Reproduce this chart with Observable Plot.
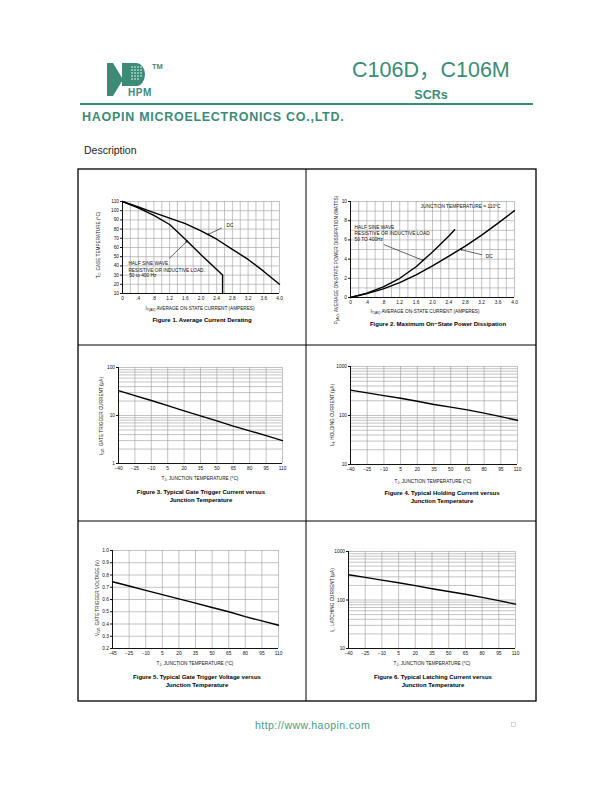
<!DOCTYPE html>
<html><head><meta charset="utf-8">
<script src="https://cdn.jsdelivr.net/npm/d3@7"></script>
<script src="https://cdn.jsdelivr.net/npm/@observablehq/plot@0.6"></script>
<style>
html,body{margin:0;padding:0;background:#fff}
#page{position:relative;width:612px;height:792px;overflow:hidden;font-family:"Liberation Sans",Arial,sans-serif;background:#fff}
#overlay{position:absolute;left:0;top:0;z-index:5;pointer-events:none}
</style></head><body><div id="page">
<svg id="overlay" width="612" height="792" xmlns="http://www.w3.org/2000/svg" font-family="Liberation Sans, Arial, sans-serif">
  <!-- header -->
  <g fill="#3b8b76">
    <rect x="107" y="63" width="6" height="33"/>
    <polygon points="113,63 123,79.5 113,96"/>
    <rect x="122" y="63" width="7" height="23"/>
    <path d="M129,63 H136 A9,11.5 0 0 1 136,86 H129 Z"/>
    <text x="128" y="96" font-weight="bold" font-size="10" letter-spacing="0.6">HPM</text>
    <text x="152" y="69" font-weight="bold" font-size="7.5" fill="#5d7f76">TM</text>
  </g>
  <g fill="#fff">
    <circle cx="132" cy="67" r="0.8"/><circle cx="135" cy="67" r="0.8"/><circle cx="138" cy="67" r="0.8"/><circle cx="141" cy="67" r="0.8"/>
    <circle cx="132" cy="70" r="0.8"/><circle cx="135" cy="70" r="0.8"/><circle cx="138" cy="70" r="0.8"/><circle cx="141" cy="70" r="0.8"/>
    <circle cx="132" cy="73" r="0.8"/><circle cx="135" cy="73" r="0.8"/><circle cx="138" cy="73" r="0.8"/><circle cx="141" cy="73" r="0.8"/>
    <circle cx="132" cy="76" r="0.8"/><circle cx="135" cy="76" r="0.8"/><circle cx="138" cy="76" r="0.8"/><circle cx="141" cy="76" r="0.8"/>
    <circle cx="132" cy="79" r="0.8"/><circle cx="135" cy="79" r="0.8"/><circle cx="138" cy="79" r="0.8"/>
  </g>
  <text x="352" y="77" font-size="21.5" fill="#3b8b76" font-family="Liberation Sans, 'Noto Sans CJK SC', sans-serif">C106D<tspan font-family="'Noto Sans CJK SC'">，</tspan>C106M</text>
  <text x="431" y="99" text-anchor="middle" font-weight="bold" font-size="12.5" fill="#3b8b76">SCRs</text>
  <line x1="80" x2="533" y1="104" y2="104" stroke="#3b8b76" stroke-width="2"/>
  <text x="82" y="121" font-weight="bold" font-size="12.5" fill="#3b8b76" letter-spacing="0.72">HAOPIN MICROELECTRONICS CO.,LTD.</text>
  <text x="84" y="154" font-size="10.5" fill="#222">Description</text>
  <!-- frame -->
  <rect x="78" y="169" width="458" height="532" fill="none" stroke="#000" stroke-width="1.3"/>
  <line x1="306" x2="306" y1="169" y2="701" stroke="#000" stroke-width="1"/>
  <line x1="78" x2="536" y1="345" y2="345" stroke="#000" stroke-width="1"/>
  <line x1="78" x2="536" y1="521" y2="521" stroke="#000" stroke-width="1"/>
  <!-- axis labels -->
  <g font-size="4.7" fill="#111">
    <text x="200" y="309.5" text-anchor="middle">I<tspan font-size="3.4" dy="1.2">T(AV)</tspan><tspan dy="-1.2"> AVERAGE ON-STATE CURRENT (AMPERES)</tspan></text>
    <text transform="translate(100,245) rotate(-90)" text-anchor="middle">T<tspan font-size="3.4" dy="1.2">C</tspan><tspan dy="-1.2">, CASE TEMPERATURE (°C)</tspan></text>
    <text x="425" y="313" text-anchor="middle">I<tspan font-size="3.4" dy="1.2">T(AV)</tspan><tspan dy="-1.2"> AVERAGE ON-STATE CURRENT (AMPERES)</tspan></text>
    <text transform="translate(337.5,260) rotate(-90)" text-anchor="middle">P<tspan font-size="3.4" dy="1.2">(AV)</tspan><tspan dy="-1.2">, AVERAGE ON-STATE POWER DISSIPATION (WATTS)</tspan></text>
    <text x="200" y="480" text-anchor="middle">T<tspan font-size="3.4" dy="1.2">J</tspan><tspan dy="-1.2">, JUNCTION TEMPERATURE (°C)</tspan></text>
    <text transform="translate(103,416) rotate(-90)" text-anchor="middle">I<tspan font-size="3.4" dy="1.2">GT</tspan><tspan dy="-1.2">, GATE TRIGGER CURRENT (μA)</tspan></text>
    <text x="433" y="483" text-anchor="middle">T<tspan font-size="3.4" dy="1.2">J</tspan><tspan dy="-1.2">, JUNCTION TEMPERATURE (°C)</tspan></text>
    <text transform="translate(334,415) rotate(-90)" text-anchor="middle">I<tspan font-size="3.4" dy="1.2">H</tspan><tspan dy="-1.2">, HOLDING CURRENT (μA)</tspan></text>
    <text x="195" y="665" text-anchor="middle">T<tspan font-size="3.4" dy="1.2">J</tspan><tspan dy="-1.2">, JUNCTION TEMPERATURE (°C)</tspan></text>
    <text transform="translate(98.5,598) rotate(-90)" text-anchor="middle">V<tspan font-size="3.4" dy="1.2">GT</tspan><tspan dy="-1.2">, GATE TRIGGER VOLTAGE (V)</tspan></text>
    <text x="432" y="665" text-anchor="middle">T<tspan font-size="3.4" dy="1.2">J</tspan><tspan dy="-1.2">, JUNCTION TEMPERATURE (°C)</tspan></text>
    <text transform="translate(334,600) rotate(-90)" text-anchor="middle">I<tspan font-size="3.4" dy="1.2">L</tspan><tspan dy="-1.2">, LATCHING CURRENT (μA)</tspan></text>
  </g>
  <!-- captions -->
  <g font-size="6" font-weight="bold" fill="#000" text-anchor="middle">
    <text x="202" y="322">Figure 1. Average Current Derating</text>
    <text x="438" y="326">Figure 2. Maximum On−State Power Dissipation</text>
    <text x="201" y="494">Figure 3. Typical Gate Trigger Current versus</text>
    <text x="201" y="502">Junction Temperature</text>
    <text x="442" y="495">Figure 4. Typical Holding Current versus</text>
    <text x="442" y="503">Junction Temperature</text>
    <text x="197" y="679">Figure 5. Typical Gate Trigger Voltage versus</text>
    <text x="197" y="687">Junction Temperature</text>
    <text x="433" y="679">Figure 6. Typical Latching Current versus</text>
    <text x="433" y="687">Junction Temperature</text>
  </g>
  <!-- footer -->
  <text x="255" y="729" font-size="10.5" fill="#4a9a86" letter-spacing="0.45">http://www.haopin.com</text>
  <rect x="511.5" y="722.5" width="4" height="4" fill="none" stroke="#bbb" stroke-width="0.6"/>
</svg>
</div>
<script>
// ================= DATA =================
// Figure 1: Average Current Derating
const f1DcX = [0, 0.4, 0.8, 1.2, 1.6, 2.0, 2.4, 2.8, 3.2, 3.6, 4.0];
const f1DcY = [110, 104, 98, 92, 86, 78, 69, 58, 47, 34, 20];
const f1HsX = [0, 0.4, 0.8, 1.2, 1.6, 2.0, 2.4, 2.55, 2.55];
const f1HsY = [110, 103, 95, 85, 69, 52, 36, 30, 10];
const f1XTicks = [0, 0.4, 0.8, 1.2, 1.6, 2.0, 2.4, 2.8, 3.2, 3.6, 4.0];
const f1XLabels = ["0", ".4", ".8", "1.2", "1.6", "2.0", "2.4", "2.8", "3.2", "3.6", "4.0"];
const f1YTicks = [10, 20, 30, 40, 50, 60, 70, 80, 90, 100, 110];
const f1YLabels = ["10", "20", "30", "40", "50", "60", "70", "80", "90", "100", "110"];
const f1GridX = [0, 0.2, 0.4, 0.6, 0.8, 1.0, 1.2, 1.4, 1.6, 1.8, 2.0, 2.2, 2.4, 2.6, 2.8, 3.0, 3.2, 3.4, 3.6, 3.8, 4.0];
const f1NoteText = ["HALF SINE WAVE", "RESISTIVE OR INDUCTIVE LOAD.", "50 to 400 Hz"];
const f1NoteX = [0.15, 0.15, 0.17];
const f1NoteY = [42.5, 35.5, 29.3];
const f1DcText = ["DC"];
const f1DcTextX = [2.65];
const f1DcTextY = [84.5];
const f1Arrows = [[2.52, 81, 2.17, 74], [1.2, 48.5, 1.65, 67]];

// Figure 2: Maximum On-State Power Dissipation
const f2HsX = [0, 0.4, 0.8, 1.2, 1.6, 2.0, 2.4, 2.54];
const f2HsY = [0, 0.45, 1.1, 2.0, 3.2, 4.75, 6.4, 7.05];
const f2DcX = [0, 0.4, 0.8, 1.2, 1.6, 2.0, 2.4, 2.8, 3.2, 3.6, 4.0];
const f2DcY = [0, 0.4, 0.9, 1.55, 2.35, 3.3, 4.3, 5.35, 6.5, 7.75, 9.05];
const f2XTicks = [0, 0.4, 0.8, 1.2, 1.6, 2.0, 2.4, 2.8, 3.2, 3.6, 4.0];
const f2XLabels = ["0", ".4", ".8", "1.2", "1.6", "2.0", "2.4", "2.8", "3.2", "3.6", "4.0"];
const f2YTicks = [0, 2, 4, 6, 8, 10];
const f2YLabels = ["0", "2", "4", "6", "8", "10"];
const f2GridX = [0, 0.2, 0.4, 0.6, 0.8, 1.0, 1.2, 1.4, 1.6, 1.8, 2.0, 2.2, 2.4, 2.6, 2.8, 3.0, 3.2, 3.4, 3.6, 3.8, 4.0];
const f2GridY = [0, 1, 2, 3, 4, 5, 6, 7, 8, 9, 10];
const f2NoteText = ["JUNCTION TEMPERATURE = 110°C", "HALF SINE WAVE", "RESISTIVE OR INDUCTIVE LOAD", "50 TO 400Hz", "DC"];
const f2NoteX = [1.71, 0.1, 0.1, 0.1, 3.3];
const f2NoteY = [9.45, 7.3, 6.7, 6.05, 4.3];
const f2Arrows = [[0.82, 5.5, 1.78, 3.85], [3.2, 4.45, 2.68, 5.0]];

// Temperature axis shared by figures 3-6
const tTicks = [-40, -25, -10, 5, 20, 35, 50, 65, 80, 95, 110];
const tLabels = ["−40", "−25", "−10", "5", "20", "35", "50", "65", "80", "95", "110"];
const t5Labels = ["−45", "−25", "−10", "5", "20", "35", "50", "65", "80", "95", "110"];

// Figure 3: Gate trigger current (uA)
const f3Y = [33, 26, 20.5, 16, 12.5, 9.8, 7.7, 6.0, 4.8, 3.8, 3.0];
const f3YTicks = [1, 10, 100];
const f3YLabels = ["1", "10", "100"];
const f3GridY = [1, 2, 3, 4, 5, 6, 7, 8, 9, 10, 20, 30, 40, 50, 60, 70, 80, 90, 100];

// Figure 4: Holding current (uA)
const f4Y = [330, 290, 255, 225, 195, 168, 148, 130, 112, 95, 80];
// Figure 6: Latching current (uA)
const f6Y = [332, 292, 257, 227, 198, 171, 150, 131, 113, 97, 82];
const decYTicks = [10, 100, 1000];
const decYLabels = ["10", "100", "1000"];
const decGridY = [10, 20, 30, 40, 50, 60, 70, 80, 90, 100, 200, 300, 400, 500, 600, 700, 800, 900, 1000];

// Figure 5: Gate trigger voltage (V)
const f5Y = [0.745, 0.71, 0.675, 0.64, 0.605, 0.57, 0.535, 0.5, 0.46, 0.425, 0.39];
const f5YTicks = [0.2, 0.3, 0.4, 0.5, 0.6, 0.7, 0.8, 0.9, 1.0];
const f5YLabels = ["0.2", "0.3", "0.4", "0.5", "0.6", "0.7", "0.8", "0.9", "1.0"];

// ================= DRAW =================
const page = document.getElementById("page");
const pts = (xs, ys) => xs.map((x, i) => ({x, y: ys[i]}));
const lab = (ticks, labels) => { const m = new Map(ticks.map((t, i) => [t, labels[i]])); return d => m.get(d) ?? ""; };
const notes = (xs, ys, ts) => xs.map((x, i) => ({x, y: ys[i], t: ts[i]}));
const arrows = a => a.map(([x1, y1, x2, y2]) => ({x1, y1, x2, y2}));
const FS = 4.8;

function makeChart(o) {
  const marks = [
    Plot.ruleX(o.gridX, {stroke: "#9a9a9a", strokeWidth: 0.6}),
    Plot.ruleY(o.gridY, {stroke: "#9a9a9a", strokeWidth: 0.6}),
    Plot.ruleX([o.xDomain[0]], {stroke: "#000", strokeWidth: 0.9}),
    Plot.ruleY([o.yDomain[0]], {stroke: "#000", strokeWidth: 0.9}),
    Plot.axisX(o.xTicks, {tickSize: 0, tickPadding: o.xPad ?? 3, fontSize: FS, tickFormat: lab(o.xTicks, o.xLabels), label: null}),
    Plot.axisY(o.yTicks, {tickSize: 2, tickPadding: 1.5, fontSize: FS, tickFormat: lab(o.yTicks, o.yLabels), label: null}),
    ...o.series.map(s => Plot.line(s, {x: "x", y: "y", stroke: "#000", strokeWidth: 1.4})),
    ...(o.extra || [])
  ];
  const svg = Plot.plot({
    width: o.w, height: o.h,
    marginLeft: o.ml, marginRight: o.mr, marginTop: o.mt, marginBottom: o.mb,
    style: {background: "transparent", fontFamily: "Liberation Sans, Arial, sans-serif", fontSize: FS + "px", color: "#111", overflow: "visible"},
    x: {type: "linear", domain: o.xDomain},
    y: {type: o.yType || "linear", domain: o.yDomain},
    marks
  });
  svg.style.position = "absolute";
  svg.style.left = o.left + "px";
  svg.style.top = o.top + "px";
  svg.style.maxWidth = "none";
  page.appendChild(svg);
}

// Figure 1
makeChart({
  left: 78, top: 169, w: 228, h: 176, ml: 44, mr: 27, mt: 32, mb: 52,
  xDomain: [0, 4.0], yDomain: [10, 110],
  xTicks: f1XTicks, xLabels: f1XLabels, yTicks: f1YTicks, yLabels: f1YLabels,
  gridX: f1GridX, gridY: f1YTicks,
  series: [pts(f1DcX, f1DcY), pts(f1HsX, f1HsY)],
  extra: [
    Plot.text(notes(f1NoteX, f1NoteY, f1NoteText), {x: "x", y: "y", text: "t", textAnchor: "start", fontSize: FS, fill: "#111"}),
    Plot.text(notes(f1DcTextX, f1DcTextY, f1DcText), {x: "x", y: "y", text: "t", textAnchor: "start", fontSize: FS, fill: "#111"}),
    Plot.arrow(arrows(f1Arrows), {x1: "x1", y1: "y1", x2: "x2", y2: "y2", stroke: "#000", strokeWidth: 0.6, headLength: 4})
  ]
});

// Figure 2
makeChart({
  left: 306, top: 169, w: 230, h: 176, ml: 44, mr: 22, mt: 32, mb: 48,
  xDomain: [0, 4.0], yDomain: [0, 10],
  xTicks: f2XTicks, xLabels: f2XLabels, yTicks: f2YTicks, yLabels: f2YLabels,
  gridX: f2GridX, gridY: f2GridY,
  series: [pts(f2HsX, f2HsY), pts(f2DcX, f2DcY)],
  extra: [
    Plot.text(notes(f2NoteX, f2NoteY, f2NoteText), {x: "x", y: "y", text: "t", textAnchor: "start", fontSize: FS, fill: "#111"}),
    Plot.arrow(arrows(f2Arrows), {x1: "x1", y1: "y1", x2: "x2", y2: "y2", stroke: "#000", strokeWidth: 0.6, headLength: 4})
  ]
});

// Figure 3
makeChart({
  left: 78, top: 345, w: 228, h: 176, ml: 40, mr: 24, mt: 22, mb: 58,
  xDomain: [-40, 110], yDomain: [1, 100], yType: "log",
  xTicks: tTicks, xLabels: tLabels, yTicks: f3YTicks, yLabels: f3YLabels,
  gridX: tTicks, gridY: f3GridY,
  series: [pts(tTicks, f3Y)]
});

// Figure 4
makeChart({
  left: 306, top: 345, w: 230, h: 176, ml: 44, mr: 19, mt: 21, mb: 57,
  xDomain: [-40, 110], yDomain: [10, 1000], yType: "log",
  xTicks: tTicks, xLabels: tLabels, yTicks: decYTicks, yLabels: decYLabels,
  gridX: tTicks, gridY: decGridY,
  series: [pts(tTicks, f4Y)]
});

// Figure 5
makeChart({
  left: 78, top: 521, w: 228, h: 180, ml: 34, mr: 28, mt: 29, mb: 53,
  xDomain: [-40, 110], yDomain: [0.2, 1.0],
  xTicks: tTicks, xLabels: t5Labels, yTicks: f5YTicks, yLabels: f5YLabels,
  gridX: tTicks, gridY: f5YTicks,
  series: [pts(tTicks, f5Y)]
});

// Figure 6
makeChart({
  left: 306, top: 521, w: 230, h: 180, ml: 42, mr: 21, mt: 30, mb: 53,
  xDomain: [-40, 110], yDomain: [10, 1000], yType: "log",
  xTicks: tTicks, xLabels: tLabels, yTicks: decYTicks, yLabels: decYLabels,
  gridX: tTicks, gridY: decGridY,
  series: [pts(tTicks, f6Y)]
});
</script>
</body></html>
